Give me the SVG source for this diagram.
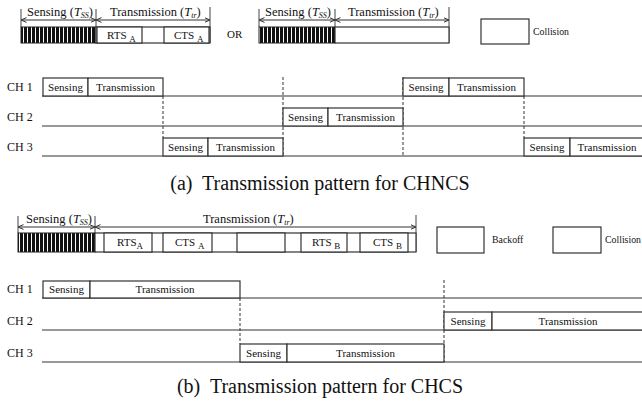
<svg xmlns="http://www.w3.org/2000/svg" width="642" height="407" viewBox="0 0 642 407" font-family="'Liberation Serif','Times New Roman',serif">
<defs>
<pattern id="hatch" width="4" height="20" patternUnits="userSpaceOnUse"><rect width="4" height="20" fill="#fff"/><rect width="3" height="20" fill="#111"/></pattern>
<marker id="ah" markerWidth="6" markerHeight="6" refX="5.5" refY="3" orient="auto-start-reverse" markerUnits="userSpaceOnUse"><path d="M0,0.6 L5.5,3 L0,5.4" fill="none" stroke="#333" stroke-width="1"/></marker>
<style>
text{font-family:"Liberation Serif","Times New Roman",serif;fill:#111}
.hd{font-size:12.5px}
.bx{font-size:11px}
.ch{font-size:12px}
.lg{font-size:9.8px}
.cap{font-size:20px}
.sub{font-size:8px;font-style:italic}
.it{font-style:italic}
.box{fill:#fff;stroke:#333;stroke-width:1.2}
.ln{stroke:#333;stroke-width:1.2;fill:none}
.tk{stroke:#444;stroke-width:1;fill:none}
.ds{stroke:#333;stroke-width:1;stroke-dasharray:3,2;fill:none}
.ar{stroke:#333;stroke-width:1;fill:none;marker-start:url(#ah);marker-end:url(#ah)}
.hb{fill:url(#hatch);stroke:#222;stroke-width:1}
</style>
</defs>
<rect width="642" height="407" fill="#fff"/>

<!-- connectors: channel lines, dashed lines, dimension arrows -->
<g id="connectors">
<line class="ln" x1="42" y1="96" x2="642" y2="96"/>
<line class="ln" x1="42" y1="126" x2="642" y2="126"/>
<line class="ln" x1="42" y1="156" x2="642" y2="156"/>
<line class="ds" x1="163" y1="96" x2="163" y2="138"/>
<line class="ds" x1="283" y1="77" x2="283" y2="156"/>
<line class="ds" x1="403" y1="77" x2="403" y2="156"/>
<line class="ds" x1="524" y1="96" x2="524" y2="138"/>
<line class="ln" x1="42" y1="298" x2="642" y2="298"/>
<line class="ln" x1="42" y1="330" x2="642" y2="330"/>
<line class="ln" x1="42" y1="362" x2="642" y2="362"/>
<line class="ds" x1="240" y1="298" x2="240" y2="344"/>
<line class="ds" x1="444" y1="280" x2="444" y2="362"/>
<line class="ar" x1="21" y1="20" x2="96" y2="20"/>
<line class="ar" x1="96" y1="20" x2="210" y2="20"/>
<line class="ar" x1="259" y1="20" x2="335" y2="20"/>
<line class="ar" x1="335" y1="20" x2="449" y2="20"/>
<line class="ar" x1="18" y1="227" x2="95" y2="227"/>
<line class="ar" x1="95" y1="227" x2="416" y2="227"/>
<path class="tk" d="M21,9V27 M96,9V27 M210,7V43 M259,9V27 M335,9V27 M449,7V43 M18,216V233 M95,216V233 M416,215V252"/>
</g>

<!-- (a) legend pattern 1 -->
<g id="a-pattern1">
<text class="hd" x="27" y="16">Sensing (<tspan class="it">T</tspan><tspan class="sub" dy="2">SS</tspan><tspan dy="-2">)</tspan></text>
<text class="hd" x="110" y="16">Transmission (<tspan class="it">T</tspan><tspan class="sub" dy="2">tr</tspan><tspan dy="-2">)</tspan></text>
<rect class="hb" x="21" y="27" width="75" height="16"/>
<rect class="box" x="96" y="27" width="114" height="16"/>
<rect class="box" x="97" y="27" width="45" height="16"/>
<rect class="box" x="164" y="27" width="45" height="16"/>
<text class="bx" x="107" y="39">RTS <tspan font-size="9" dy="3">A</tspan></text>
<text class="bx" x="174" y="39">CTS <tspan font-size="9" dy="3">A</tspan></text>
</g>
<g id="a-or"><text class="bx" x="227" y="38">OR</text></g>
<g id="a-pattern2">
<text class="hd" x="265" y="16">Sensing (<tspan class="it">T</tspan><tspan class="sub" dy="2">SS</tspan><tspan dy="-2">)</tspan></text>
<text class="hd" x="348" y="16">Transmission (<tspan class="it">T</tspan><tspan class="sub" dy="2">tr</tspan><tspan dy="-2">)</tspan></text>
<rect class="hb" x="259" y="27" width="76" height="16"/>
<rect class="box" x="335" y="27" width="114" height="16"/>
</g>
<g id="a-collision">
<rect class="box" x="481" y="19" width="48" height="25"/>
<text class="lg" x="533" y="35">Collision</text>
</g>

<!-- (a) channels -->
<g id="a-labels">
<text class="ch" x="7" y="91">CH 1</text>
<text class="ch" x="7" y="121">CH 2</text>
<text class="ch" x="7" y="151">CH 3</text>
</g>
<g id="a-ch1-1">
<rect class="box" x="43" y="78" width="45" height="18"/><text class="bx" x="65.5" y="91" text-anchor="middle">Sensing</text>
<rect class="box" x="88" y="78" width="75" height="18"/><text class="bx" x="125.5" y="91" text-anchor="middle">Transmission</text>
</g>
<g id="a-ch3-1">
<rect class="box" x="163" y="138" width="45" height="18"/><text class="bx" x="185.5" y="151" text-anchor="middle">Sensing</text>
<rect class="box" x="208" y="138" width="75" height="18"/><text class="bx" x="245.5" y="151" text-anchor="middle">Transmission</text>
</g>
<g id="a-ch2-1">
<rect class="box" x="283" y="108" width="45" height="18"/><text class="bx" x="305.5" y="121" text-anchor="middle">Sensing</text>
<rect class="box" x="328" y="108" width="75" height="18"/><text class="bx" x="365.5" y="121" text-anchor="middle">Transmission</text>
</g>
<g id="a-ch1-2">
<rect class="box" x="403" y="78" width="46" height="18"/><text class="bx" x="426" y="91" text-anchor="middle">Sensing</text>
<rect class="box" x="449" y="78" width="75" height="18"/><text class="bx" x="486.5" y="91" text-anchor="middle">Transmission</text>
</g>
<g id="a-ch3-2">
<rect class="box" x="524" y="138" width="46" height="18"/><text class="bx" x="547" y="151" text-anchor="middle">Sensing</text>
<rect class="box" x="570" y="138" width="75" height="18"/><text class="bx" x="607" y="151" text-anchor="middle">Transmission</text>
</g>
<g id="caption-a"><text class="cap" x="320" y="190" text-anchor="middle" xml:space="preserve">(a)  Transmission pattern for CHNCS</text></g>

<!-- (b) legend -->
<g id="b-pattern">
<text class="hd" x="26" y="223">Sensing (<tspan class="it">T</tspan><tspan class="sub" dy="2">SS</tspan><tspan dy="-2">)</tspan></text>
<text class="hd" x="203" y="223">Transmission (<tspan class="it">T</tspan><tspan class="sub" dy="2">tr</tspan><tspan dy="-2">)</tspan></text>
<rect class="hb" x="18" y="233" width="77" height="19"/>
<rect class="box" x="95" y="233" width="321" height="19"/>
<rect class="box" x="104" y="233" width="48" height="19"/>
<rect class="box" x="163" y="233" width="49" height="19"/>
<rect class="box" x="237" y="233" width="48" height="19"/>
<rect class="box" x="301" y="233" width="46" height="19"/>
<rect class="box" x="360" y="233" width="48" height="19"/>
<text class="bx" x="117" y="246">RTS<tspan font-size="9" dy="3">A</tspan></text>
<text class="bx" x="175" y="246">CTS <tspan font-size="9" dy="3">A</tspan></text>
<text class="bx" x="312" y="246">RTS <tspan font-size="9" dy="3">B</tspan></text>
<text class="bx" x="373" y="246">CTS <tspan font-size="9" dy="3">B</tspan></text>
</g>
<g id="b-backoff">
<rect class="box" x="437" y="227" width="47" height="26"/>
<text class="lg" x="492" y="243">Backoff</text>
</g>
<g id="b-collision">
<rect class="box" x="553" y="227" width="48" height="26"/>
<text class="lg" x="605" y="243">Collision</text>
</g>

<!-- (b) channels -->
<g id="b-labels">
<text class="ch" x="7" y="293">CH 1</text>
<text class="ch" x="7" y="325">CH 2</text>
<text class="ch" x="7" y="357">CH 3</text>
</g>
<g id="b-ch1">
<rect class="box" x="43" y="281" width="47" height="17"/><text class="bx" x="66.5" y="293" text-anchor="middle">Sensing</text>
<rect class="box" x="90" y="281" width="150" height="17"/><text class="bx" x="165" y="293" text-anchor="middle">Transmission</text>
</g>
<g id="b-ch3">
<rect class="box" x="240" y="344" width="47" height="18"/><text class="bx" x="263.5" y="357" text-anchor="middle">Sensing</text>
<rect class="box" x="287" y="344" width="157" height="18"/><text class="bx" x="365.5" y="357" text-anchor="middle">Transmission</text>
</g>
<g id="b-ch2">
<rect class="box" x="444" y="312" width="48" height="18"/><text class="bx" x="468" y="325" text-anchor="middle">Sensing</text>
<rect class="box" x="492" y="312" width="152" height="18"/><text class="bx" x="568" y="325" text-anchor="middle">Transmission</text>
</g>
<g id="caption-b"><text class="cap" x="320" y="393" text-anchor="middle" xml:space="preserve">(b)  Transmission pattern for CHCS</text></g>
</svg>
